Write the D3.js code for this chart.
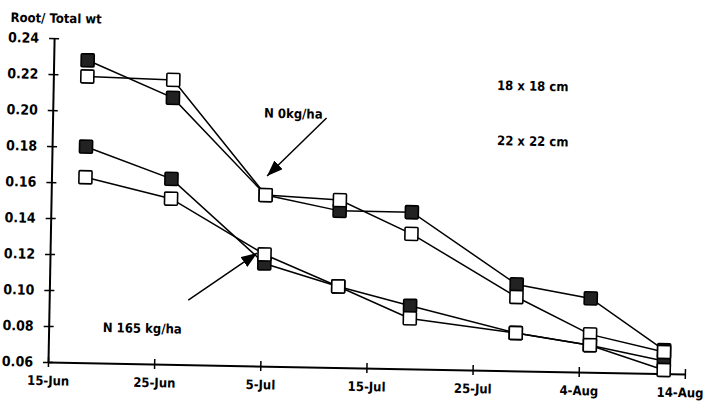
<!DOCTYPE html>
<html>
<head>
<meta charset="utf-8">
<script src="https://cdn.jsdelivr.net/npm/d3@7"></script>
<style>
  body { margin: 0; background: #fff; }
  text { font-family: "Liberation Sans Narrow", "DejaVu Sans Condensed", "DejaVu Sans Mono", sans-serif; font-weight: bold; fill: #000; }
</style>
</head>
<body>
<script>
// days after 15-Jun for each harvest
var days = [3.2, 11.3, 20.2, 27.2, 34.0, 44.0, 51.0, 58.0];
var dayTicks = [0, 10, 20, 30, 40, 50, 60];
var dayLabels = ["15-Jun", "25-Jun", "5-Jul", "15-Jul", "25-Jul", "4-Aug", "14-Aug"];
var yTicks = [0.06, 0.08, 0.10, 0.12, 0.14, 0.16, 0.18, 0.20, 0.22, 0.24];

// root / total weight
var n0Spacing18 = [0.228, 0.208, 0.155, 0.147, 0.147, 0.108, 0.101, 0.073];
var n0Spacing22 = [0.219, 0.218, 0.155, 0.153, 0.135, 0.101, 0.081, 0.072];
var n165Spacing18 = [0.180, 0.163, 0.117, 0.105, 0.095, 0.081, 0.075, 0.067];
var n165Spacing22 = [0.163, 0.152, 0.122, 0.105, 0.088, 0.081, 0.075, 0.062];

var seriesNames = ["N0 18x18", "N0 22x22", "N165 18x18", "N165 22x22"];
var seriesValues = [n0Spacing18, n0Spacing22, n165Spacing18, n165Spacing22];
var seriesFilled = [true, false, true, false];

var width = 707, height = 401;

var svg = d3.select("body").append("svg")
  .attr("width", width)
  .attr("height", height);

// the scanned figure is tilted by about a degree
var g = svg.append("g").attr("transform", "rotate(1.08, 48, 362)");

var x = d3.scaleLinear().domain([0, 60]).range([48, 685]);
var y = d3.scaleLinear().domain([0.06, 0.24]).range([362, 38]);

var xAxis = d3.axisBottom(x)
  .tickValues(dayTicks)
  .tickFormat(function (d, i) { return dayLabels[i]; })
  .tickSize(5)
  .tickSizeOuter(0)
  .tickPadding(9);

var yAxis = d3.axisLeft(y)
  .tickValues(yTicks)
  .tickFormat(d3.format(".2f"))
  .tickSize(5)
  .tickSizeOuter(0)
  .tickPadding(10);

var gx = g.append("g")
  .attr("transform", "translate(0," + y(0.06) + ")")
  .call(xAxis);
gx.selectAll(".tick line").attr("y1", -5).attr("stroke-width", 1.5);
gx.select(".domain").attr("stroke-width", 2);
gx.selectAll(".tick text")
  .style("font-size", "13px")
  .attr("dx", function (d, i) { return i === dayTicks.length - 1 ? -5 : 0; });

var gy = g.append("g")
  .attr("transform", "translate(" + x(0) + ",0)")
  .call(yAxis);
gy.selectAll(".tick line").attr("x1", 5).attr("stroke-width", 1.5);
gy.select(".domain").attr("stroke-width", 2);
gy.selectAll(".tick text").style("font-size", "14px");

g.append("text")
  .attr("x", x(0) - 44)
  .attr("y", y(0.2485))
  .style("font-size", "13px")
  .text("Root/ Total wt");

// lines
var line = d3.line()
  .x(function (d, i) { return x(days[i]); })
  .y(function (d) { return y(d); });

g.selectAll(".series")
  .data(seriesValues)
  .enter()
  .append("path")
  .attr("class", "series")
  .attr("d", line)
  .attr("fill", "none")
  .attr("stroke", "#000")
  .attr("stroke-width", 1.5);

// markers: filled first, open ones on top
var sq = 13;
var order = [0, 2, 1, 3];
order.forEach(function (s) {
  g.append("g")
    .selectAll("rect")
    .data(seriesValues[s])
    .enter()
    .append("rect")
    .attr("x", function (d, i) { return x(days[i]) - sq / 2; })
    .attr("y", function (d) { return y(d) - sq / 2; })
    .attr("width", sq)
    .attr("height", sq)
    .attr("rx", 1)
    .attr("fill", seriesFilled[s] ? "#222" : "#fff")
    .attr("stroke", "#000")
    .attr("stroke-width", 1.6);
});

// annotations
svg.append("defs").append("marker")
  .attr("id", "head")
  .attr("markerUnits", "userSpaceOnUse")
  .attr("viewBox", "0 0 16 12")
  .attr("refX", 16)
  .attr("refY", 6)
  .attr("markerWidth", 16)
  .attr("markerHeight", 12)
  .attr("orient", "auto")
  .append("path")
  .attr("d", "M0,0L16,6L0,12Z")
  .attr("fill", "#000");

var arrows = [
  { from: [25.8, 0.1984], to: [20.3, 0.1656] },
  { from: [13.1, 0.0959], to: [19.5, 0.1227] }
];
g.selectAll(".arrow")
  .data(arrows)
  .enter()
  .append("line")
  .attr("class", "arrow")
  .attr("x1", function (d) { return x(d.from[0]); })
  .attr("y1", function (d) { return y(d.from[1]); })
  .attr("x2", function (d) { return x(d.to[0]); })
  .attr("y2", function (d) { return y(d.to[1]); })
  .attr("stroke", "#000")
  .attr("stroke-width", 1.5)
  .attr("marker-end", "url(#head)");

var notes = [
  { text: "N 0kg/ha", at: [19.9, 0.198] },
  { text: "N 165 kg/ha", at: [5.1, 0.0772] },
  { text: "18 x 18 cm", at: [41.8, 0.2158] },
  { text: "22 x 22 cm", at: [41.9, 0.1852] }
];
g.selectAll(".note")
  .data(notes)
  .enter()
  .append("text")
  .attr("class", "note")
  .attr("x", function (d) { return x(d.at[0]); })
  .attr("y", function (d) { return y(d.at[1]); })
  .style("font-size", "13px")
  .text(function (d) { return d.text; });
</script>
</body>
</html>
